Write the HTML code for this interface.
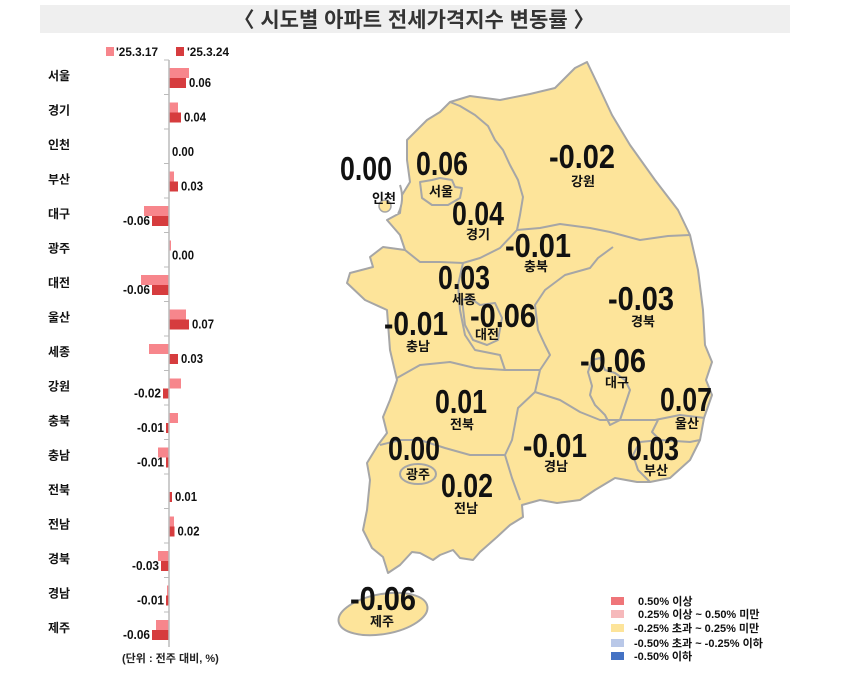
<!DOCTYPE html>
<html><head><meta charset="utf-8">
<style>
body{margin:0;background:#fff;width:842px;height:694px;overflow:hidden;font-family:"Liberation Sans","Noto Sans CJK KR",sans-serif;}
</style></head>
<body>
<svg id="s" width="842" height="694" viewBox="0 0 842 694" xmlns="http://www.w3.org/2000/svg" font-family="'Liberation Sans','Noto Sans CJK KR',sans-serif">
<rect x="40" y="5" width="750" height="28" fill="#efefef"/>
<text x="414" y="27" text-anchor="middle" font-size="21" font-weight="bold" fill="#333">〈 시도별 아파트 전세가격지수 변동률 〉</text>
<rect x="106" y="47" width="8" height="9" fill="#f7868c"/>
<text x="116" y="56" font-size="12" font-weight="bold" fill="#111" textLength="42" lengthAdjust="spacingAndGlyphs">'25.3.17</text>
<rect x="176" y="47" width="8" height="9" fill="#d63c3e"/>
<text x="187" y="56" font-size="12" font-weight="bold" fill="#111" textLength="42" lengthAdjust="spacingAndGlyphs">'25.3.24</text>
<g id="bars"></g>
<line x1="169" y1="60" x2="169" y2="647" stroke="#bbb" stroke-width="1.5"/>
<text x="122" y="662" font-size="11" font-weight="bold" fill="#222">(단위 : 전주 대비, %)</text>

<g fill="#fde49a" stroke="#a6a6a6" stroke-width="2" stroke-linejoin="round">
<path d="M450,102 L470,96 L500,100 L530,94 L555,88 L575,68 L587,62 L598,85 L612,115 L630,145 L655,180 L678,210 L690,235 L698,270 L703,310 L705,345 L712,362 L706,380 L712,395 L704,418 L700,440 L690,460 L670,478 L650,482 L637,482 L615,478 L595,490 L580,500 L557,503 L540,500 L522,505 L523,517 L510,525 L497,537 L480,552 L473,560 L460,558 L453,550 L440,555 L433,560 L420,553 L412,552 L400,565 L388,573 L383,557 L372,548 L363,530 L367,510 L370,480 L367,463 L378,445 L387,433 L383,417 L390,400 L397,380 L390,350 L387,310 L365,300 L347,283 L350,273 L373,267 L370,257 L383,247 L405,250 L400,235 L387,220 L400,213 L402,195 L410,182 L407,160 L407,140 L427,120 L440,112 Z"/>
<ellipse cx="383" cy="614" rx="45" ry="20" transform="rotate(-10 383 614)"/>
</g>
<path d="M370,185 L390,178 L402,186 L402,205 L398,214 L380,214 L368,205 Z" fill="#fff" stroke="none"/>
<path d="M400,185 Q405,200 398,214" fill="none" stroke="#a6a6a6" stroke-width="2"/>
<circle cx="385" cy="206" r="6" fill="#fde49a" stroke="#a6a6a6" stroke-width="1.5"/>
<g fill="none" stroke="#a6a6a6" stroke-width="2" stroke-linejoin="round">
<path d="M450,102 L460,106 L475,115 L488,126 L495,140 L503,150 L510,165 L518,180 L523,197 L520,215 L517,230"/>
<path d="M517,230 L540,228 L560,224 L590,228 L610,232 L640,240 L668,236 L690,235"/>
<path d="M613,247 L598,258 L590,268 L565,275 L545,290 L535,305 L538,330 L545,345 L550,355 L540,370"/>
<path d="M517,230 L500,248 L480,258 L463,263 L440,262 L420,262 L405,250"/>
<path d="M463,263 L458,285 L460,310 L465,335 L475,350 L500,355 L505,370"/>
<path d="M462,300 L470,298 L480,305 L495,303 L502,318 L498,340 L487,345 L473,340 L465,325 Z"/>
<path d="M397,378 L420,365 L450,362 L475,368 L505,370 L540,370"/>
<path d="M540,370 L535,392 L518,408 L512,440 L505,455"/>
<path d="M380,445 L400,440 L420,440 L445,448 L470,455 L505,455"/>
<path d="M505,455 L512,478 L520,500"/>
<path d="M535,392 L560,400 L580,412 L600,420 L630,420 L655,420 L680,415 L705,418"/>
<path d="M592,386 L588,372 L592,360 L600,358 L605,370 L615,373 L625,380 L630,390 L625,405 L620,420 L610,425 L605,415 L595,405 L590,395 Z"/>
<path d="M658,420 L652,432 L660,440 L690,442 L700,440"/>
<path d="M660,440 L640,442 L633,455 L638,470 L650,482"/>
<path d="M420,182 L432,180 L440,178 L452,180 L455,187 L462,188 L460,198 L448,205 L432,205 L422,198 Z"/>
<ellipse cx="418" cy="474" rx="18" ry="10"/>
</g>
<g font-weight="bold" font-size="33" fill="#111" text-anchor="middle" lengthAdjust="spacingAndGlyphs">
<text x="366" y="180" textLength="52" lengthAdjust="spacingAndGlyphs">0.00</text>
<text x="442" y="175" textLength="52" lengthAdjust="spacingAndGlyphs">0.06</text>
<text x="582" y="168" textLength="66" lengthAdjust="spacingAndGlyphs">-0.02</text>
<text x="478" y="225" textLength="52" lengthAdjust="spacingAndGlyphs">0.04</text>
<text x="538" y="257" textLength="66" lengthAdjust="spacingAndGlyphs">-0.01</text>
<text x="464" y="289" textLength="52" lengthAdjust="spacingAndGlyphs">0.03</text>
<text x="503" y="327" textLength="66" lengthAdjust="spacingAndGlyphs">-0.06</text>
<text x="416" y="335" textLength="64" lengthAdjust="spacingAndGlyphs">-0.01</text>
<text x="641" y="310" textLength="66" lengthAdjust="spacingAndGlyphs">-0.03</text>
<text x="613" y="372" textLength="66" lengthAdjust="spacingAndGlyphs">-0.06</text>
<text x="686" y="411" textLength="52" lengthAdjust="spacingAndGlyphs">0.07</text>
<text x="461" y="413" textLength="52" lengthAdjust="spacingAndGlyphs">0.01</text>
<text x="414" y="460" textLength="52" lengthAdjust="spacingAndGlyphs">0.00</text>
<text x="555" y="457" textLength="64" lengthAdjust="spacingAndGlyphs">-0.01</text>
<text x="653" y="460" textLength="52" lengthAdjust="spacingAndGlyphs">0.03</text>
<text x="467" y="497" textLength="52" lengthAdjust="spacingAndGlyphs">0.02</text>
<text x="383" y="610" textLength="66" lengthAdjust="spacingAndGlyphs">-0.06</text>
</g>
<g font-weight="bold" font-size="13" fill="#111" text-anchor="middle">
<text x="384" y="203">인천</text>
<text x="441" y="196">서울</text>
<text x="583" y="186">강원</text>
<text x="478" y="239">경기</text>
<text x="536" y="271">충북</text>
<text x="464" y="304">세종</text>
<text x="487" y="339">대전</text>
<text x="418" y="351">충남</text>
<text x="643" y="326">경북</text>
<text x="617" y="387">대구</text>
<text x="687" y="428">울산</text>
<text x="462" y="429">전북</text>
<text x="418" y="479">광주</text>
<text x="556" y="471">경남</text>
<text x="656" y="475">부산</text>
<text x="466" y="513">전남</text>
<text x="382" y="626">제주</text>
</g>
<g font-weight="bold" font-size="11" fill="#111">
<rect x="611" y="597" width="13" height="8" fill="#ef7579"/><text x="638" y="605">0.50% 이상</text>
<rect x="611" y="610" width="13" height="8" fill="#f6b9bb"/><text x="638" y="618">0.25% 이상 ~ 0.50% 미만</text>
<rect x="611" y="624" width="13" height="8" fill="#fde49a"/><text x="634" y="632">-0.25% 초과 ~ 0.25% 미만</text>
<rect x="611" y="639" width="13" height="8" fill="#b9c8e8"/><text x="634" y="647">-0.50% 초과 ~ -0.25% 이하</text>
<rect x="611" y="652" width="13" height="8" fill="#4472c4"/><text x="634" y="660">-0.50% 이하</text>
</g>
</svg>
<script>
var rows=[["서울",20,17,"0.06"],["경기",9,12,"0.04"],["인천",0,0,"0.00"],["부산",5,9,"0.03"],["대구",-25,-17,"-0.06"],["광주",2,0,"0.00"],["대전",-28,-17,"-0.06"],["울산",17,20,"0.07"],["세종",-20,9,"0.03"],["강원",12,-6,"-0.02"],["충북",9,-3,"-0.01"],["충남",-11,-3,"-0.01"],["전북",0,3,"0.01"],["전남",5,5.5,"0.02"],["경북",-11,-8,"-0.03"],["경남",-2,-3,"-0.01"],["제주",-13,-17,"-0.06"]];
var g=document.getElementById('bars'),h='',X=169;
rows.forEach(function(r,i){var t=60+34.5*i;
h+='<line x1="164" y1="'+t+'" x2="169" y2="'+t+'" stroke="#bbb"/>';
h+='<text x="48" y="'+(t+20)+'" font-size="12" font-weight="bold" fill="#111">'+r[0]+'</text>';
if(r[1])h+='<rect x="'+(r[1]>0?X:X+r[1])+'" y="'+(t+8)+'" width="'+Math.abs(r[1])+'" height="10" fill="#f7868c"/>';
if(r[2])h+='<rect x="'+(r[2]>0?X:X+r[2])+'" y="'+(t+18)+'" width="'+Math.abs(r[2])+'" height="10" fill="#d63c3e"/>';
var neg=r[2]<0;var ex=neg?X+r[2]-2:X+Math.max(r[2],0)+3;
var w=r[3].length>4?27:22;
h+='<text x="'+ex+'" y="'+(t+27)+'" font-size="12.5" font-weight="bold" fill="#111" textLength="'+w+'" lengthAdjust="spacingAndGlyphs" text-anchor="'+(neg?'end':'start')+'">'+r[3]+'</text>';
});
g.innerHTML=h;
</script>
</body></html>
